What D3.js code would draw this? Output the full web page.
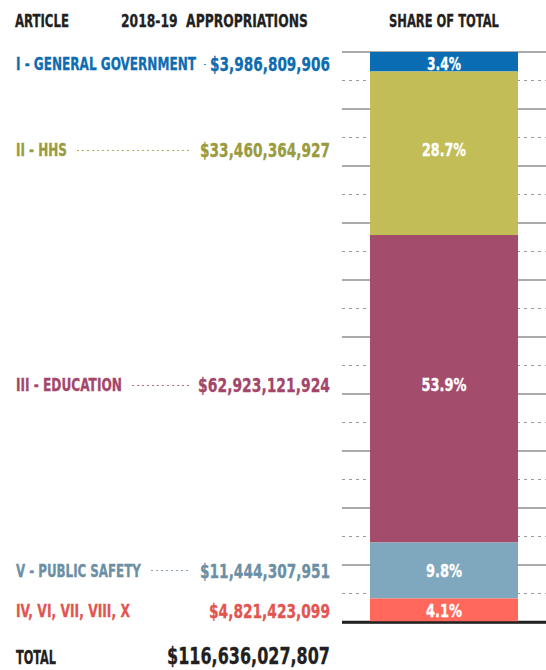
<!DOCTYPE html>
<html>
<head>
<meta charset="utf-8">
<script src="https://cdn.jsdelivr.net/npm/d3@7"></script>
<style>
  body { margin: 0; background: #fff; }
  text { font-family: "DejaVu Sans Condensed", "Liberation Sans Narrow", "DejaVu Sans", sans-serif; font-weight: bold; font-stretch: condensed; }
</style>
</head>
<body>
<svg id="chart" width="546" height="670"></svg>
<script>
// data
var articles = ["I - GENERAL GOVERNMENT", "II - HHS", "III - EDUCATION", "V - PUBLIC SAFETY", "IV, VI, VII, VIII, X"];
var amounts = [3986809906, 33460364927, 62923121924, 11444307951, 4821423099];
var shareLabels = ["3.4%", "28.7%", "53.9%", "9.8%", "4.1%"];
var totalAmount = 116636027807;

// styles
var barColors = ["#0a6db4", "#c2bd57", "#a34c6b", "#7fa7be", "#ff685b"];
var textColors = ["#0e6cb0", "#9a9b3e", "#a3466a", "#6b8fa4", "#e25550"];
// target text widths (px) to mimic the condensed font
var labelWidths = [180, 51, 106, 125, 114];
var amountWidths = [120, 130, 132, 130, 121];
var pctWidths = [34, 44, 45, 36, 36];

var svg = d3.select("#chart");
var fmt = d3.format(",");

var y = d3.scaleLinear().domain([0, totalAmount]).range([52, 622]);
var gridX0 = 342, gridX1 = 546, barX0 = 370, barX1 = 518;

// squeeze a text horizontally to a width, anchored at (x, y)
function squeeze(sel, xf, yf, wf) {
  sel.each(function (d, i) {
    var t = d3.select(this).attr("x", 0).attr("y", 0);
    var w = this.getComputedTextLength();
    var x = typeof xf == "function" ? xf(d, i) : xf;
    var yy = typeof yf == "function" ? yf(d, i) : yf;
    var tw = typeof wf == "function" ? wf(d, i) : wf;
    t.attr("transform", "translate(" + x + "," + yy + ") scale(" + (tw / w) + ",1)");
  });
}

// headers
var head = svg.append("g").attr("font-size", 18).attr("fill", "#231f20")
  .attr("stroke", "#231f20").attr("stroke-width", 0.3);
head.append("text").text("ARTICLE").call(squeeze, 15, 27, 54);
head.append("text").attr("xml:space", "preserve").text("2018-19  APPROPRIATIONS").call(squeeze, 121, 27, 187);
head.append("text").text("SHARE OF TOTAL").call(squeeze, 389, 27, 110);

// grid every 5% of the total
var ticks = d3.range(0, 21).map(function (i) { return totalAmount * i / 20; });
svg.append("g").selectAll("line")
  .data(ticks)
  .enter().append("line")
  .attr("x1", gridX0).attr("x2", gridX1)
  .attr("y1", function (d) { return y(d); })
  .attr("y2", function (d) { return y(d); })
  .attr("stroke", function (d, i) { return i == 20 ? "#222" : (i % 2 == 0 ? "#8f8f8f" : "#9a9a9a"); })
  .attr("stroke-width", function (d, i) { return i == 20 ? 2.5 : (i % 2 == 0 ? 1.5 : 1); })
  .attr("stroke-dasharray", function (d, i) { return (i % 2 == 1) ? "3,4" : null; });

// stacked segments
var cum = [];
var run = 0;
amounts.forEach(function (a) { cum.push(run); run += a; });

svg.append("g").selectAll("rect")
  .data(amounts)
  .enter().append("rect")
  .attr("x", barX0)
  .attr("width", barX1 - barX0)
  .attr("y", function (d, i) { return y(cum[i]); })
  .attr("height", function (d, i) { return y(cum[i] + d) - y(cum[i]); })
  .attr("fill", function (d, i) { return barColors[i]; });

// bottom line on top of bar
svg.append("line").attr("x1", gridX0).attr("x2", gridX1)
  .attr("y1", y(totalAmount) + 0.5).attr("y2", y(totalAmount) + 0.5)
  .attr("stroke", "#222").attr("stroke-width", 2.5);

// row centre, nudged a little like the original layout
var nudge = [2, -3, -4, 0, 1];
function mid(i) { return y(cum[i] + amounts[i] / 2) + nudge[i]; }

// percent labels
svg.append("g").selectAll("text")
  .data(shareLabels)
  .enter().append("text")
  .attr("dy", "0.36em")
  .attr("text-anchor", "middle")
  .attr("font-size", 17)
  .attr("fill", "#fff")
  .attr("stroke", "#fff").attr("stroke-width", 0.3)
  .text(function (d) { return d; })
  .call(squeeze, (barX0 + barX1) / 2, function (d, i) { return mid(i); }, function (d, i) { return pctWidths[i]; });

// article names
svg.append("g").selectAll("text")
  .data(articles)
  .enter().append("text")
  .attr("dy", "0.36em")
  .attr("font-size", 17)
  .attr("fill", function (d, i) { return textColors[i]; })
  .attr("stroke", function (d, i) { return textColors[i]; })
  .attr("stroke-width", 0.3)
  .text(function (d) { return d; })
  .call(squeeze, 16, function (d, i) { return mid(i); }, function (d, i) { return labelWidths[i]; });

// amounts
svg.append("g").selectAll("text")
  .data(amounts)
  .enter().append("text")
  .attr("dy", "0.36em")
  .attr("text-anchor", "end")
  .attr("font-size", 20)
  .attr("fill", function (d, i) { return textColors[i]; })
  .attr("stroke", function (d, i) { return textColors[i]; })
  .attr("stroke-width", 0.3)
  .text(function (d) { return "$" + fmt(d); })
  .call(squeeze, 330, function (d, i) { return mid(i); }, function (d, i) { return amountWidths[i]; });

// dotted leaders between name and amount
svg.append("g").selectAll("line")
  .data(amounts)
  .enter().append("line")
  .filter(function (d, i) { return 330 - amountWidths[i] - (16 + labelWidths[i]) > 30; })
  .attr("x1", function (d, i) { return 16 + labelWidths[i] + 10; })
  .attr("x2", function (d, i) { return 330 - amountWidths[i] - 9; })
  .attr("y1", function (d, i) { return Math.round(mid(i)) + 0.5; })
  .attr("y2", function (d, i) { return Math.round(mid(i)) + 0.5; })
  .attr("stroke", function (d, i) { return textColors[i]; })
  .attr("stroke-opacity", 0.8)
  .attr("stroke-width", 1)
  .attr("stroke-dasharray", "2,3");

// total row
svg.append("text").attr("font-size", 19).attr("fill", "#231f20")
  .attr("stroke", "#231f20").attr("stroke-width", 0.3)
  .text("TOTAL").call(squeeze, 16, 664, 40);
svg.append("text").attr("text-anchor", "end").attr("font-size", 23).attr("fill", "#231f20")
  .attr("stroke", "#231f20").attr("stroke-width", 0.3)
  .text("$" + fmt(totalAmount)).call(squeeze, 330, 664, 163);
</script>
</body>
</html>
